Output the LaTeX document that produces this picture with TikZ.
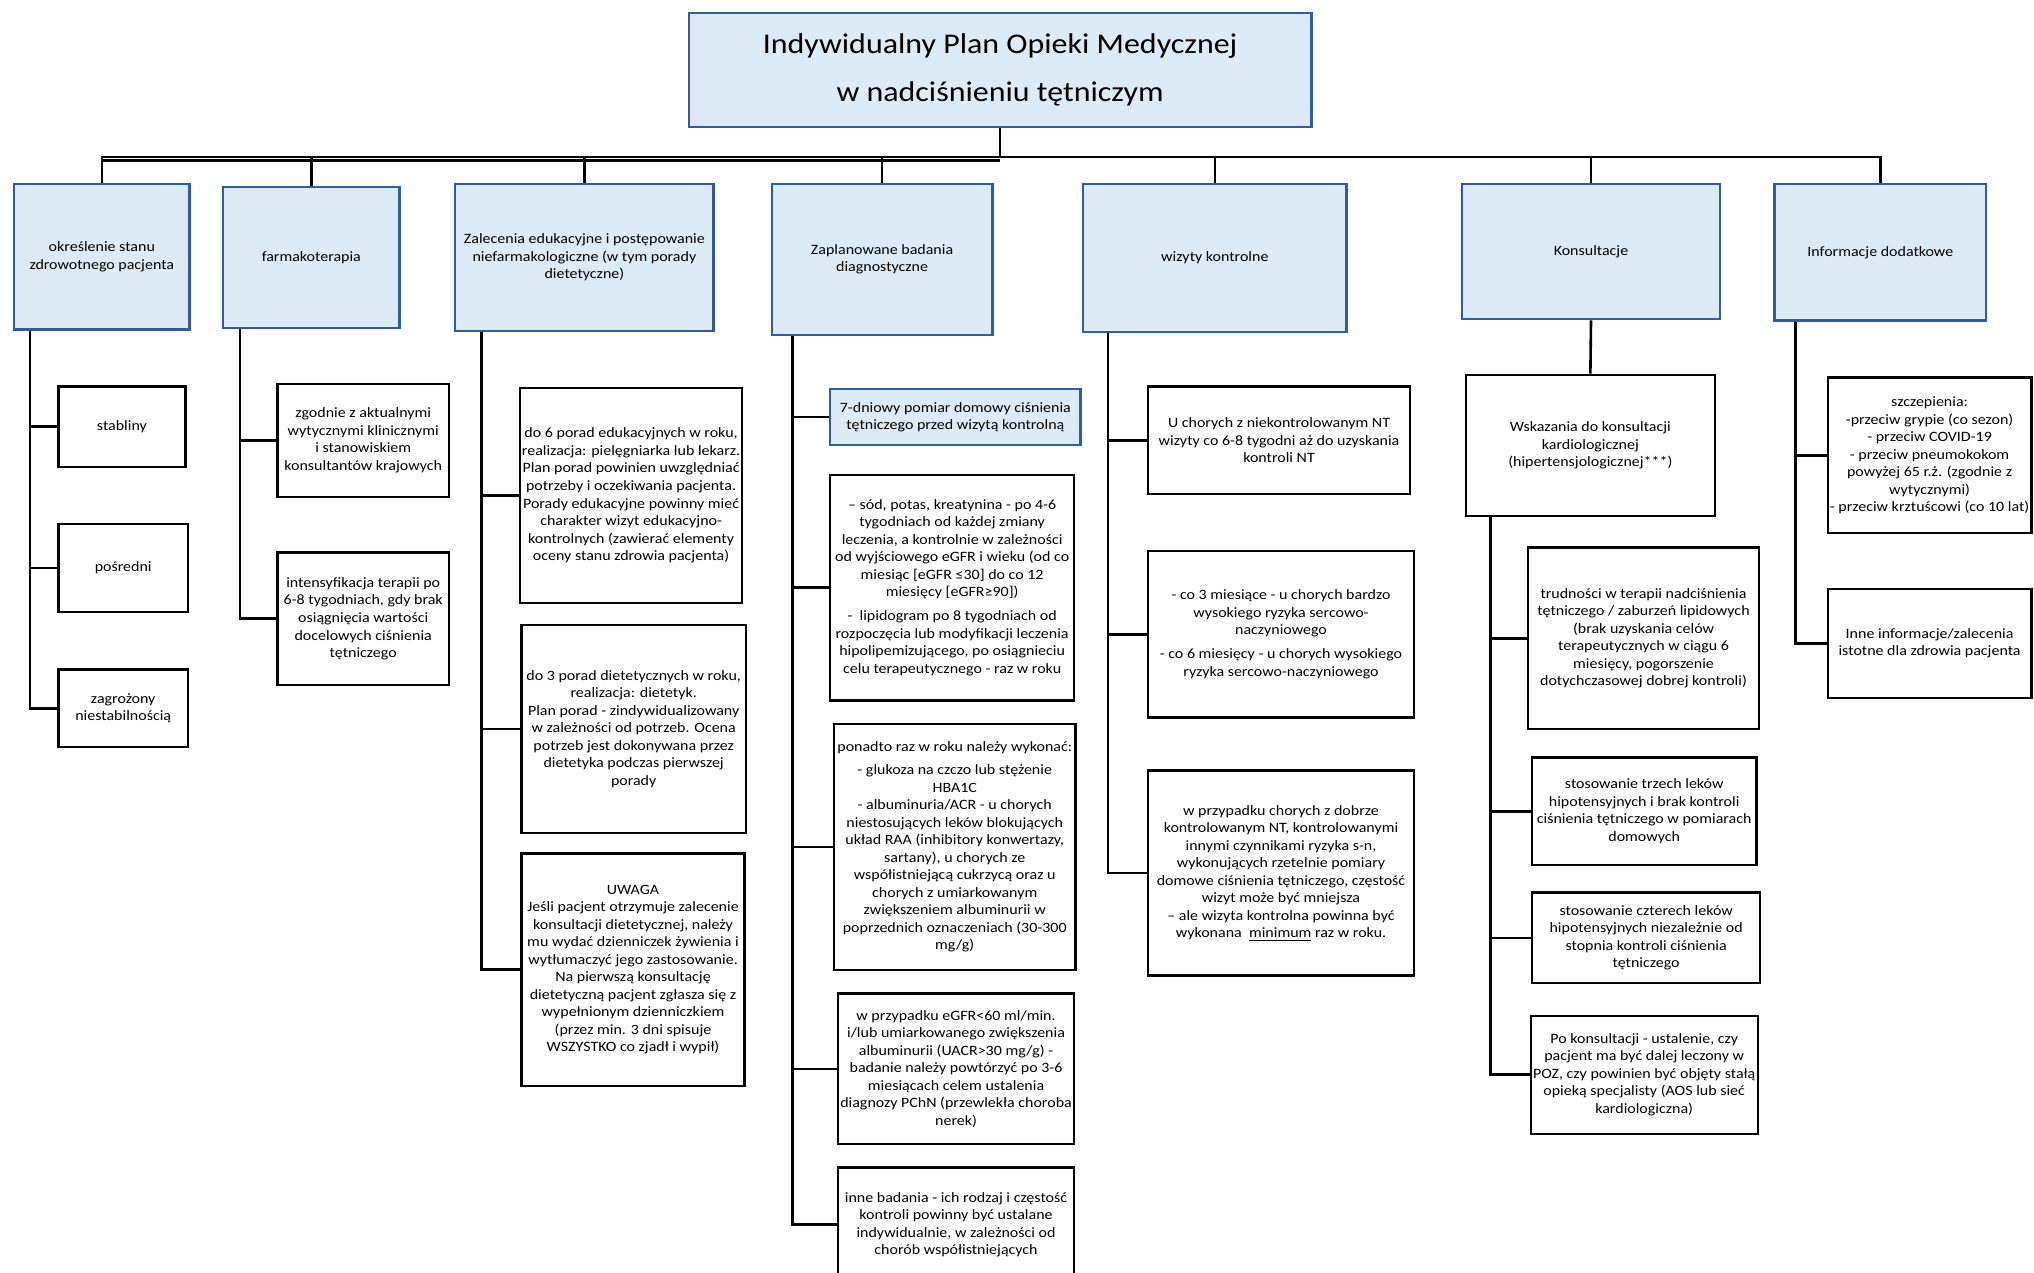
\documentclass[tikz,border=0pt]{standalone}
\usepackage{fontspec}
\setmainfont[FakeStretch=1.12]{Carlito}
\definecolor{hdrfill}{RGB}{221,235,247}
\definecolor{hdrline}{RGB}{52,90,165}
\newcommand{\txtsmall}{\fontsize{11pt}{13.5pt}\selectfont}
\newcommand{\txttitle}{\fontsize{22pt}{37pt}\selectfont}
\begin{document}
\begin{tikzpicture}[x=1pt,y=-1pt,
  sz/.style 2 args={minimum width=#1pt, minimum height=#2pt},
  hdr/.style={draw=hdrline, fill=hdrfill, line width=1.8pt, align=center, inner sep=0pt, font=\txtsmall},
  box/.style={draw=black, fill=white, line width=1.8pt, align=center, inner sep=0pt, font=\txtsmall},
  bluebox/.style={box, draw=hdrline, fill=hdrfill},
  conn/.style={draw=black, line width=2pt}]
\useasboundingbox (0,0) rectangle (1568,981);
\fill[white] (0,0) rectangle (1568,981);

% title
\node[hdr, sz={480}{88}, font=\txttitle] (title) at (771,54) {Indywidualny Plan Opieki Medycznej\\w nadciśnieniu tętniczym};

% headers
\node[hdr, sz={135}{112}] (h1) at (78.5,198) {określenie stanu\\zdrowotnego pacjenta};
\node[hdr, sz={136}{109}] (h2) at (240,198.5) {farmakoterapia};
\node[hdr, sz={199}{113}] (h3) at (450.5,198.5) {Zalecenia edukacyjne i postępowanie\\niefarmakologiczne (w tym porady\\dietetyczne)};
\node[hdr, sz={170}{116}] (h4) at (680,200) {Zaplanowane badania\\diagnostyczne};
\node[hdr, sz={203}{114}] (h5) at (936.5,199) {wizyty kontrolne};
\node[hdr, sz={199}{104}] (h6) at (1226.5,194) {Konsultacje};
\node[hdr, sz={163}{105}] (h7) at (1449.5,194.5) {Informacje dodatkowe};

% bus
\foreach \h in {h1,h2,h3,h4,h5,h6,h7}
  \draw[conn] (title.south) -- ++(0,22) -| (\h.north);
\draw[conn] (title.south) ++(0,25) -| (h1.north);

% column 1
\node[box, sz={98}{62}] (c1a) at (94,329) {stabliny};
\node[box, sz={100}{68}] (c1b) at (95,438) {pośredni};
\node[box, sz={100}{60}] (c1c) at (95,546) {zagrożony\\niestabilnością};
\foreach \b in {c1a,c1b,c1c}
  \draw[conn] ([xshift=13pt]h1.south west) |- (\b.west);

% column 2
\node[box, sz={132}{87}] (c2a) at (280,339.5) {zgodnie z aktualnymi\\wytycznymi klinicznymi\\i stanowiskiem\\konsultantów krajowych};
\node[box, sz={132}{102}] (c2b) at (280,477) {intensyfikacja terapii po\\6-8 tygodniach, gdy brak\\osiągnięcia wartości\\docelowych ciśnienia\\tętniczego};
\foreach \b in {c2a,c2b}
  \draw[conn] ([xshift=14pt]h2.south west) |- (\b.west);

% column 3
\node[box, sz={171}{166}] (c3a) at (486.5,382) {do 6 porad edukacyjnych w roku,\\realizacja: pielęgniarka lub lekarz.\\Plan porad powinien uwzględniać\\potrzeby i oczekiwania pacjenta.\\Porady edukacyjne powinny mieć\\charakter wizyt edukacyjno-\\kontrolnych (zawierać elementy\\oceny stanu zdrowia pacjenta)};
\node[box, sz={173}{160}] (c3b) at (488.5,562) {do 3 porad dietetycznych w roku,\\realizacja: dietetyk.\\Plan porad - zindywidualizowany\\w zależności od potrzeb. Ocena\\potrzeb jest dokonywana przez\\dietetyka podczas pierwszej\\porady};
\node[box, sz={172}{179}] (c3c) at (488,747.5) {UWAGA\\Jeśli pacjent otrzymuje zalecenie\\konsultacji dietetycznej, należy\\mu wydać dzienniczek żywienia i\\wytłumaczyć jego zastosowanie.\\Na pierwszą konsultację\\dietetyczną pacjent zgłasza się z\\wypełnionym dzienniczkiem\\(przez min. 3 dni spisuje\\WSZYSTKO co zjadł i wypił)};
\foreach \b in {c3a,c3b,c3c}
  \draw[conn] ([xshift=21pt]h3.south west) |- (\b.west);

% column 4
\node[bluebox, sz={193}{43}] (c4a) at (736.5,321.5) {7-dniowy pomiar domowy ciśnienia\\tętniczego przed wizytą kontrolną};
\node[box, sz={188}{174}] (c4b) at (734,453) {– sód, potas, kreatynina - po 4-6\\tygodniach od każdej zmiany\\leczenia, a kontrolnie w zależności\\od wyjściowego eGFR i wieku (od co\\miesiąc [eGFR ≤30] do co 12\\miesięcy [eGFR≥90])\\[5pt]-\ \ lipidogram po 8 tygodniach od\\rozpoczęcia lub modyfikacji leczenia\\hipolipemizującego, po osiągnieciu\\celu terapeutycznego - raz w roku};
\node[box, sz={186}{190}] (c4c) at (736,653) {ponadto raz w roku należy wykonać:\\[4pt]- glukoza na czczo lub stężenie\\HBA1C\\- albuminuria/ACR\ - u chorych\\niestosujących leków blokujących\\układ RAA (inhibitory konwertazy,\\sartany), u chorych ze\\współistniejącą cukrzycą oraz u\\chorych z umiarkowanym\\zwiększeniem albuminurii w\\poprzednich oznaczeniach (30-300\\mg/g)};
\node[box, sz={182}{116}] (c4d) at (737,824) {w przypadku eGFR<60 ml/min.\\i/lub umiarkowanego zwiększenia\\albuminurii (UACR>30 mg/g)\ -\\badanie należy powtórzyć po 3-6\\miesiącach celem ustalenia\\diagnozy PChN (przewlekła choroba\\nerek)};
\node[box, sz={182}{88}] (c4e) at (737,944) {inne badania - ich rodzaj i częstość\\kontroli powinny być ustalane\\indywidualnie, w zależności od\\chorób współistniejących};
\foreach \b in {c4a,c4b,c4c,c4d,c4e}
  \draw[conn] ([xshift=17pt]h4.south west) |- (\b.west);

% column 5
\node[box, sz={202}{83}] (c5a) at (986,339.5) {U chorych z niekontrolowanym NT\\wizyty co 6-8 tygodni aż do uzyskania\\kontroli NT};
\node[box, sz={205}{128}] (c5b) at (987.5,489) {- co 3 miesiące - u chorych bardzo\\wysokiego ryzyka sercowo-\\naczyniowego\\[5pt]- co 6 miesięcy - u chorych wysokiego\\ryzyka sercowo-naczyniowego};
\node[box, sz={205}{158}] (c5c) at (987.5,673) {w przypadku chorych z dobrze\\kontrolowanym NT, kontrolowanymi\\innymi czynnikami ryzyka s-n,\\wykonujących rzetelnie pomiary\\domowe ciśnienia tętniczego, częstość\\wizyt może być mniejsza\\– ale wizyta kontrolna powinna być\\wykonana\ \ \underline{minimum} raz w roku.};
\foreach \b in {c5a,c5b,c5c}
  \draw[conn] ([xshift=20pt]h5.south west) |- (\b.west);

% column 6
\node[box, sz={192}{109}] (w6) at (1226,343.5) {Wskazania do konsultacji\\kardiologicznej\\(hipertensjologicznej***)};
\draw[conn] (h6.south) -- (w6.north);
\node[box, sz={178}{140}] (c6a) at (1267,492) {trudności w terapii nadciśnienia\\tętniczego / zaburzeń lipidowych\\(brak uzyskania celów\\terapeutycznych w ciągu 6\\miesięcy, pogorszenie\\dotychczasowej dobrej kontroli)};
\node[box, sz={173}{83}] (c6b) at (1267.5,625.5) {stosowanie trzech\ leków\\hipotensyjnych i brak kontroli\\ciśnienia tętniczego w pomiarach\\domowych};
\node[box, sz={176}{70}] (c6c) at (1269,723) {stosowanie czterech\ leków\\hipotensyjnych niezależnie od\\stopnia kontroli ciśnienia\\tętniczego};
\node[box, sz={175}{91}] (c6d) at (1267.5,828.5) {Po konsultacji - ustalenie, czy\\pacjent ma być dalej leczony w\\POZ, czy powinien być objęty stałą\\opieką specjalisty (AOS lub sieć\\kardiologiczna)};
\foreach \b in {c6a,c6b,c6c,c6d}
  \draw[conn] ([xshift=20pt]w6.south west) |- (\b.west);

% column 7
\node[box, sz={157}{120}] (c7a) at (1487.5,351) {szczepienia:\\-przeciw grypie (co sezon)\\- przeciw COVID-19\\- przeciw pneumokokom\\powyżej 65 r.ż. (zgodnie z\\wytycznymi)\\- przeciw krztuścowi (co 10 lat)};
\node[box, sz={157}{84}] (c7b) at (1487.5,496) {Inne informacje/zalecenia\\istotne dla zdrowia pacjenta};
\foreach \b in {c7a,c7b}
  \draw[conn] ([xshift=17pt]h7.south west) |- (\b.west);
\end{tikzpicture}
\end{document}
